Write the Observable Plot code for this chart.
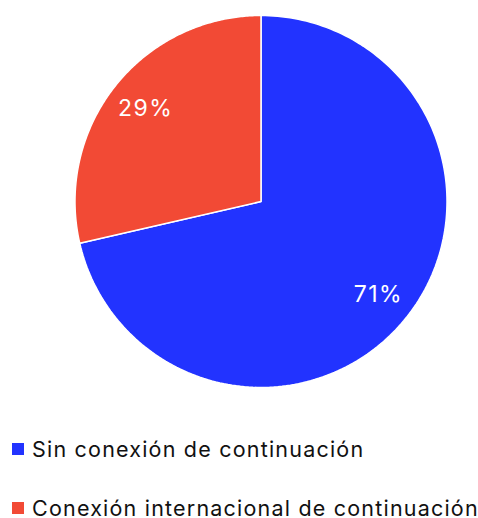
<!DOCTYPE html>
<html><head><meta charset="utf-8">
<script src="https://cdn.jsdelivr.net/npm/d3@7"></script>
<script src="https://cdn.jsdelivr.net/npm/@observablehq/plot@0.6"></script>
<style>
body{margin:0;background:#fff;font-family:Inter,"Noto Sans",sans-serif;position:relative;width:478px;height:518px;overflow:hidden;}
#chart text{letter-spacing:1.5px;}
.item{position:absolute;left:12px;display:flex;align-items:center;height:24px;line-height:24px;font-size:21.5px;letter-spacing:1.2px;color:#111;white-space:nowrap;}
.sw{width:12px;height:12px;margin-right:8px;flex:none;}
</style></head>
<body><div id="chart"></div><div id="legend"></div>
<script>
const categories = ["Sin conexión de continuación", "Conexión internacional de continuación"];
const values = [71.4, 28.6];
const colors = ["#2233ff", "#f24a35"];

const arcs = d3.pie().sort(null)(values);
const polys = [];
arcs.forEach((a, i) => {
  const n = 200;
  polys.push({cat: categories[i], x: 0, y: 0});
  for (let k = 0; k <= n; k++) {
    const t = a.startAngle + (a.endAngle - a.startAngle) * k / n;
    polys.push({cat: categories[i], x: Math.sin(t), y: Math.cos(t)});
  }
  polys.push({cat: categories[i], x: 0, y: 0});
});
const labels = arcs.map((a, i) => {
  const m = (a.startAngle + a.endAngle) / 2;
  return {text: Math.round(values[i]) + "%", x: 0.8 * Math.sin(m), y: 0.8 * Math.cos(m)};
});

const plot = Plot.plot({
  width: 478, height: 400,
  marginTop: 15, marginBottom: 13, marginLeft: 74.5, marginRight: 31.5,
  x: {domain: [-1, 1], axis: null},
  y: {domain: [-1, 1], axis: null},
  color: {domain: categories, range: colors},
  marks: [
    Plot.line(polys, {x: "x", y: "y", z: "cat", fill: "cat", stroke: "white", strokeWidth: 1.5, curve: "linear"}),
    Plot.text(labels, {x: "x", y: "y", text: "text", fill: "white", fontSize: 23, fontFamily: "Inter", dx: 1})
  ]
});
document.getElementById("chart").appendChild(plot);
const leg = document.getElementById("legend");
const tops = [437, 495.5];
categories.forEach((c, i) => {
  const d = document.createElement("div"); d.className = "item";
  d.style.top = tops[i] + "px";
  d.innerHTML = `<span class="sw" style="background:${colors[i]}"></span><span>${c}</span>`;
  leg.appendChild(d);
});
</script></body></html>
